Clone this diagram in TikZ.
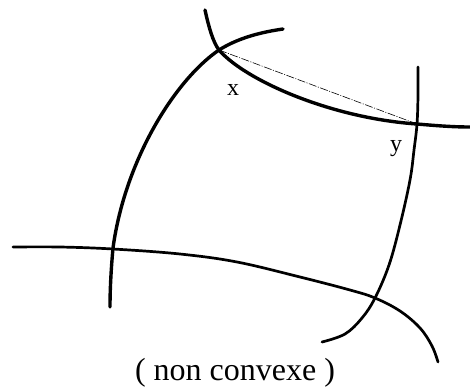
\documentclass[tikz,border=0pt]{standalone}
\usepackage{fontspec}
\setmainfont{Liberation Serif}
\begin{document}
\begin{tikzpicture}[x=1pt,y=-1pt,
  curve/.style={line width=3.4pt,line cap=round,line join=round},
  thincurve/.style={line width=2.7pt,line cap=round,line join=round},
  chord/.style={line width=0.6pt,dash pattern=on 8pt off 1.5pt on 1pt off 1.5pt},
  lbl/.style={font=\fontsize{24}{26}\selectfont,inner sep=0pt}]
\useasboundingbox (0,0) rectangle (470,389);
\coordinate (x) at (219,50);
\coordinate (y) at (417,124);
% curve through x and y
\draw[curve] (205,10) .. controls (209,28) and (213,42) .. (x)
  .. controls (245,80) and (330,118) .. (y)
  .. controls (440,126) and (455,127) .. (470,127);
% left arc
\draw[curve] (283,29) .. controls (255,33) and (235,40) .. (x)
  .. controls (175,80) and (125,160) .. (113,248)
  .. controls (111,270) and (110,290) .. (110,307);
% bottom curve
\draw[thincurve] plot[smooth,tension=0.6] coordinates {(13,247) (60,247) (113,249) (180,254) (237,262) (300,277) (350,290) (375,298) (400,311) (420,328) (432,346) (438,362)};
% right curve
\draw[thincurve] plot[smooth,tension=0.6] coordinates {(418,67) (418,95) (y) (414,150) (410,180) (400,225) (389,265) (375,298) (362,318) (345,334) (322,342)};
% chord
\draw[chord] (x) -- (y);
\node[lbl] (lx) at (233,90) {x};
\node[lbl] (ly) at (396,149) {y};
\node[font=\fontsize{32}{36}\selectfont,inner sep=0pt] (cap) at (235,373) {( non convexe )};
\end{tikzpicture}
\end{document}
